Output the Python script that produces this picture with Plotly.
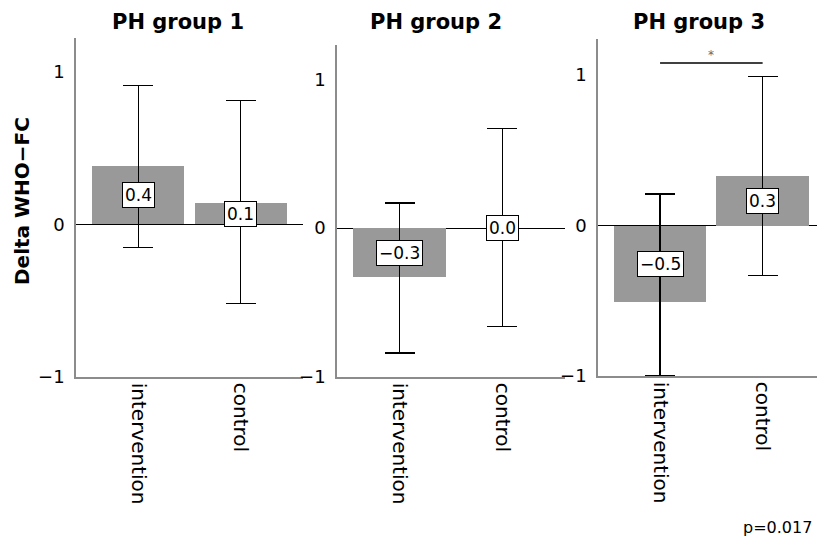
import plotly.graph_objects as go

# ---------------- data ----------------
groups = ["PH group 1", "PH group 2", "PH group 3"]
categories = ["intervention", "control"]

mean_g1 = [0.38, 0.14]
ci_low_g1 = [-0.15, -0.52]
ci_high_g1 = [0.91, 0.81]

mean_g2 = [-0.33, 0.00]
ci_low_g2 = [-0.84, -0.66]
ci_high_g2 = [0.17, 0.67]

mean_g3 = [-0.51, 0.33]
ci_low_g3 = [-1.00, -0.33]
ci_high_g3 = [0.21, 0.99]

y_ticks = [-1, 0, 1]
y_tick_labels = ["\u22121", "0", "1"]
y_title = "Delta WHO\u2212FC"
sig_group = 2
sig_y = 1.08
sig_text = "*"
p_text = "p=0.017"

means = [mean_g1, mean_g2, mean_g3]
lows = [ci_low_g1, ci_low_g2, ci_low_g3]
highs = [ci_high_g1, ci_high_g2, ci_high_g3]

# ---------------- layout geometry (pixels) ----------------
W, H = 817, 537
FONT = "DejaVu Sans"
panels_px = [  # x0, x1, ytop, ybottom
    (76, 303, 38, 377),
    (337, 565, 45, 377),
    (598, 817, 39, 376),
]
y_tops = [1.22, 1.23, 1.24]
x_ranges = [[-0.61, 1.61], [-0.61, 1.61], [-0.605, 1.53]]
title_px = [(178, 22), (436, 22), (699, 22)]


def fmt(v):
    s = f"{abs(v):.1f}"
    return ("\u2212" + s) if round(v, 1) < 0 else s


fig = go.Figure()
annotations = []
for i in range(3):
    xa = "x" if i == 0 else f"x{i+1}"
    ya = "y" if i == 0 else f"y{i+1}"
    m = means[i]
    plus = [h - v for h, v in zip(highs[i], m)]
    minus = [v - l for v, l in zip(m, lows[i])]
    fig.add_trace(go.Bar(
        x=[0, 1], y=m, width=0.9,
        marker=dict(color="#999999", line=dict(width=0)),
        error_y=dict(type="data", symmetric=False, array=plus, arrayminus=minus,
                     color="black", thickness=1.4, width=15),
        xaxis=xa, yaxis=ya, showlegend=False, hoverinfo="skip",
    ))
    for j, v in enumerate(m):
        annotations.append(dict(
            x=j, y=v / 2, xref=xa, yref=ya, text=fmt(v), showarrow=False,
            font=dict(family=FONT, size=17, color="black"),
            bgcolor="white", bordercolor="black", borderwidth=1, borderpad=2,
        ))
    x0, x1, yt, yb = panels_px[i]
    dom_x = [x0 / W, x1 / W]
    dom_y = [1 - yb / H, 1 - yt / H]
    axis_common = dict(showgrid=False, ticks="", linecolor="#8c8c8c", linewidth=1.5,
                       showline=True, automargin=False, fixedrange=True)
    fig.layout[("xaxis" if i == 0 else f"xaxis{i+1}")] = dict(
        domain=dom_x, anchor=ya, range=x_ranges[i], tickvals=[0, 1],
        ticktext=categories, tickangle=90, zeroline=False,
        tickfont=dict(family=FONT, size=20, color="black"), **axis_common,
    )
    fig.layout[("yaxis" if i == 0 else f"yaxis{i+1}")] = dict(
        domain=dom_y, anchor=xa, range=[-1, y_tops[i]], tickvals=y_ticks,
        ticktext=y_tick_labels, zeroline=True, zerolinecolor="black",
        zerolinewidth=1.4, ticklabelstandoff=6,
        tickfont=dict(family=FONT, size=18, color="black"), **axis_common,
    )
    tx, ty = title_px[i]
    annotations.append(dict(
        x=tx / W, y=1 - ty / H, xref="paper", yref="paper", text=f"<b>{groups[i]}</b>",
        showarrow=False, font=dict(family=FONT, size=21, color="black"),
        xanchor="center", yanchor="middle",
    ))

# significance bracket in group 3
xa_s = f"x{sig_group+1}"
ya_s = f"y{sig_group+1}"
fig.add_trace(go.Scatter(
    x=[0, 1], y=[sig_y, sig_y], mode="lines", line=dict(color="black", width=1.6),
    xaxis=xa_s, yaxis=ya_s, showlegend=False, hoverinfo="skip", cliponaxis=False,
))
annotations.append(dict(
    x=0.5, y=sig_y, xref=xa_s, yref=ya_s, text=sig_text, showarrow=False,
    font=dict(family=FONT, size=12, color="#666666"), yanchor="bottom", yshift=-1,
))

annotations.append(dict(
    x=22 / W, y=1 - 201 / H, xref="paper", yref="paper", text=f"<b>{y_title}</b>",
    showarrow=False, textangle=-90, font=dict(family=FONT, size=20, color="black"),
    xanchor="center", yanchor="middle",
))
annotations.append(dict(
    x=814 / W, y=1 - 527 / H, xref="paper", yref="paper", text=p_text,
    showarrow=False, font=dict(family=FONT, size=16, color="black"),
    xanchor="right", yanchor="middle",
))

fig.update_layout(
    width=W, height=H, margin=dict(l=0, r=0, t=0, b=0, autoexpand=False),
    paper_bgcolor="white", plot_bgcolor="white",
    annotations=annotations, bargap=0, font=dict(family=FONT),
)

fig.write_html("out.html", config={"displayModeBar": False})
